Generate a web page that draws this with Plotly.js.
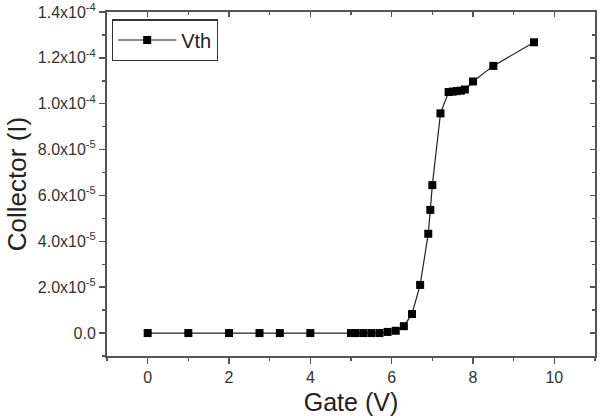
<!DOCTYPE html>
<html>
<head>
<meta charset="utf-8">
<script src="https://cdn.plot.ly/plotly-3.0.1.min.js"></script>
<style>
  html, body { margin: 0; padding: 0; background: #fff; }
  #plot { width: 600px; height: 416px; }
</style>
</head>
<body>
<div id="plot"></div>
<script>
// Gate sweep (V) and measured collector current (A)
const gateV = [0, 1, 2, 2.75, 3.25, 4, 5, 5.1, 5.3, 5.5, 5.7, 5.9, 6.1, 6.3, 6.5, 6.7,
               6.9, 6.95, 7.0, 7.2, 7.4, 7.5, 7.6, 7.7, 7.8, 8.0, 8.5, 9.5];
const collectorI = [0, 0, 0, 0, 0, 0, 0, 0, 0, 0, 0, 0.5e-6, 1.0e-6, 3.0e-6, 8.3e-6, 2.1e-5,
                    4.33e-5, 5.37e-5, 6.45e-5, 9.58e-5, 1.051e-4, 1.053e-4, 1.055e-4, 1.057e-4, 1.062e-4,
                    1.097e-4, 1.165e-4, 1.268e-4];
const seriesName = 'Vth';

const yTickVals = [0, 2e-5, 4e-5, 6e-5, 8e-5, 1e-4, 1.2e-4, 1.4e-4];
const yTickText = ['0.0', '2.0x10<sup>-5</sup>', '4.0x10<sup>-5</sup>', '6.0x10<sup>-5</sup>',
                   '8.0x10<sup>-5</sup>', '1.0x10<sup>-4</sup>', '1.2x10<sup>-4</sup>', '1.4x10<sup>-4</sup>'];
const xTickVals = [0, 2, 4, 6, 8, 10];

const xRange = [-1, 11];
const yRange = [-1e-5, 1.4e-4];

const axisColor = '#555555';
const font = { family: 'Liberation Sans, Arial, sans-serif', color: '#333333' };

const traces = [
  {
    x: gateV, y: collectorI, name: seriesName, type: 'scatter', mode: 'lines+markers',
    line: { color: '#222222', width: 1.2 },
    marker: { symbol: 'square', size: 8, color: '#000000' }
  },
  // companion axes for the inward ticks on the top and right frame
  { x: [], y: [], xaxis: 'x2', yaxis: 'y2', showlegend: false, hoverinfo: 'skip', type: 'scatter' }
];

const layout = {
  width: 600, height: 416,
  margin: { l: 107, r: 5, t: 12, b: 60 },
  paper_bgcolor: '#ffffff', plot_bgcolor: '#ffffff',
  font: font,
  showlegend: true,
  legend: {
    x: 0.01, y: 0.979, xanchor: 'left', yanchor: 'top',
    bgcolor: '#ffffff', bordercolor: '#333333', borderwidth: 1.3,
    font: { size: 20, color: '#222222', family: font.family },
    itemwidth: 58
  },
  xaxis: {
    range: xRange, tickvals: xTickVals, ticks: 'outside', ticklen: 6, tickwidth: 1.5,
    tickcolor: axisColor, showline: true, linecolor: axisColor, linewidth: 2,
    showgrid: false, zeroline: false, tickfont: { size: 16, color: '#333333' },
    minor: { dtick: 1, tick0: 1, ticks: 'outside', ticklen: 3, tickwidth: 1.5, tickcolor: axisColor, showgrid: false },
    title: { text: 'Gate (V)', font: { size: 25, color: '#222222' }, standoff: 20 }
  },
  yaxis: {
    range: yRange, tickvals: yTickVals, ticktext: yTickText, ticks: 'outside', ticklen: 6, tickwidth: 1.5,
    tickcolor: axisColor, showline: true, linecolor: axisColor, linewidth: 2,
    showgrid: false, zeroline: false, tickfont: { size: 16, color: '#333333' },
    minor: { dtick: 1e-5, tick0: 1e-5, ticks: 'outside', ticklen: 3, tickwidth: 1.5, tickcolor: axisColor, showgrid: false },
    title: { text: 'Collector (I)', font: { size: 26, color: '#222222' }, standoff: 4 }
  },
  xaxis2: {
    overlaying: 'x', side: 'top', range: xRange, tickvals: xTickVals, ticks: 'inside', ticklen: 5, tickwidth: 1.5,
    tickcolor: axisColor, showline: true, linecolor: axisColor, linewidth: 2, showticklabels: false,
    showgrid: false, zeroline: false,
    minor: { dtick: 1, tick0: 1, ticks: 'inside', ticklen: 3, tickwidth: 1.5, tickcolor: axisColor, showgrid: false }
  },
  yaxis2: {
    overlaying: 'y', side: 'right', range: yRange, tickvals: yTickVals, ticks: 'inside', ticklen: 5, tickwidth: 1.5,
    tickcolor: axisColor, showline: true, linecolor: axisColor, linewidth: 2, showticklabels: false,
    showgrid: false, zeroline: false,
    minor: { dtick: 1e-5, tick0: 1e-5, ticks: 'inside', ticklen: 3, tickwidth: 1.5, tickcolor: axisColor, showgrid: false }
  }
};

Plotly.newPlot('plot', traces, layout, { staticPlot: true, displayModeBar: false });
</script>
</body>
</html>
